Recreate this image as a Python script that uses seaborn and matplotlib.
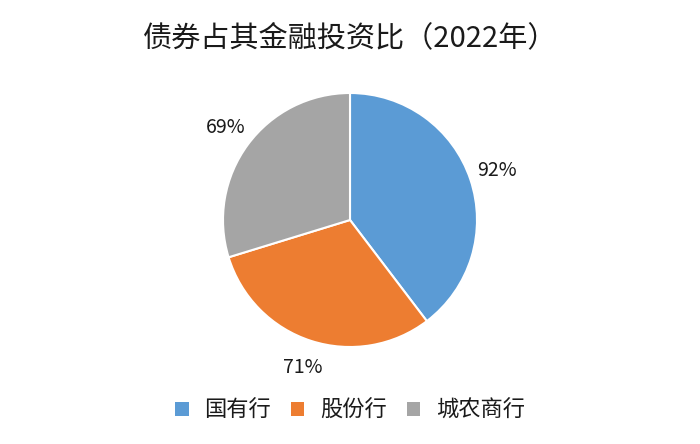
import matplotlib
matplotlib.use("Agg")
import matplotlib.pyplot as plt
import seaborn as sns
from matplotlib.patches import Patch

categories = ["国有行", "股份行", "城农商行"]
values = [92, 71, 69]
labels = ["92%", "71%", "69%"]
colors_hex = ["#5B9BD5", "#ED7D31", "#A5A5A5"]
title = "债券占其金融投资比（2022年）"

sns.set_theme(style="white")
plt.rcParams["font.family"] = ["Noto Sans CJK SC", "DejaVu Sans"]

palette = sns.color_palette(colors_hex)

fig = plt.figure(figsize=(7, 4.44), dpi=100)
fig.patch.set_facecolor("white")
ax = fig.add_axes([(350 - 127) / 700, (444 - 347) / 444, 254 / 700, 254 / 444])

wedges, texts = ax.pie(values, labels=labels, colors=palette, startangle=90,
                       counterclock=False, labeldistance=1.22,
                       wedgeprops=dict(edgecolor="white", linewidth=1.5),
                       textprops=dict(fontsize=14, color="#1a1a1a"))
for t in texts:
    t.set_ha("center")
    t.set_va("center")
ax.set_xlim(-1, 1)
ax.set_ylim(-1, 1)
ax.set_aspect("equal")

fig.text(0.5, 1 - 38 / 444, title, ha="center", va="center", fontsize=21, color="#1a1a1a")

handles = [Patch(facecolor=c, edgecolor="none") for c in palette]
fig.legend(handles, categories, loc="center", bbox_to_anchor=(0.5, 1 - 410 / 444),
           ncol=3, frameon=False, fontsize=16, handlelength=0.6, handleheight=0.6,
           handletextpad=0.7, columnspacing=0.9, labelcolor="#1a1a1a")

fig.savefig("out.png", dpi=100, facecolor="white")
